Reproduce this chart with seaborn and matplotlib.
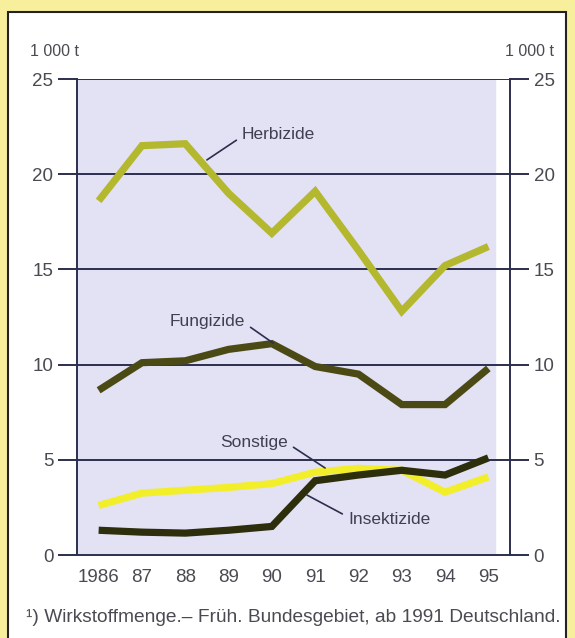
import matplotlib
matplotlib.use("Agg")
import matplotlib.pyplot as plt
import matplotlib.patches as mpatches
import numpy as np
import pandas as pd
import seaborn as sns

years = ["1986", "87", "88", "89", "90", "91", "92", "93", "94", "95"]
herbizide = [18.6, 21.5, 21.6, 19.0, 16.9, 19.1, 16.0, 12.8, 15.2, 16.2]
fungizide = [8.65, 10.1, 10.2, 10.8, 11.1, 9.9, 9.5, 7.9, 7.9, 9.8]
sonstige = [2.6, 3.25, 3.4, 3.55, 3.75, 4.35, 4.55, 4.45, 3.3, 4.1]
insektizide = [1.3, 1.2, 1.15, 1.3, 1.5, 3.9, 4.2, 4.45, 4.2, 5.1]

series = ["Herbizide", "Fungizide", "Sonstige", "Insektizide"]
colors = {"Herbizide": "#b3b82e", "Fungizide": "#4b4a14",
          "Sonstige": "#f2ee2a", "Insektizide": "#2c2e0c"}

pos = np.arange(len(years))
df = pd.concat([
    pd.DataFrame({"pos": pos, "value": vals, "series": name})
    for name, vals in zip(series, [herbizide, fungizide, sonstige, insektizide])
])

sns.set_style("white")
plt.rcParams["font.family"] = ["Liberation Sans", "DejaVu Sans"]
txt = "#4a4a52"
grid = "#2b2f4d"

fig = plt.figure(figsize=(5.75, 6.38), dpi=100)
fig.patch.set_facecolor("#f8ef9c")
panel = mpatches.Rectangle((8 / 575, -0.01), 558 / 575, 1 - 12 / 638 + 0.01,
                           transform=fig.transFigure, facecolor="white",
                           edgecolor="#222222", linewidth=1.5, zorder=-10)
fig.patches.append(panel)

ax = fig.add_axes([77 / 575, 1 - 555 / 638, 433 / 575, 476 / 638])
ax.set_zorder(1)
ax.set_facecolor("none")
ax.axvspan(-0.5, 9.15, color="#e3e1f4", zorder=0)

for name in series:
    sub = df[df["series"] == name]
    sns.lineplot(data=sub, x="pos", y="value", color=colors[name], linewidth=5.2,
                 ax=ax, legend=False, zorder=3, solid_capstyle="butt",
                 solid_joinstyle="miter")

ax.set_xlim(-0.5, 9.5)
ax.set_ylim(0, 25)
for v in [5, 10, 15, 20, 25]:
    ax.axhline(v, color=grid, linewidth=1.4, zorder=2)

for s in ["left", "right", "bottom"]:
    ax.spines[s].set_visible(True)
    ax.spines[s].set_color(grid)
    ax.spines[s].set_linewidth(1.4)
ax.spines["top"].set_visible(False)

ax.set_yticks([0, 5, 10, 15, 20, 25])
ax.tick_params(axis="y", left=True, right=True, labelleft=True, labelright=True,
               length=14, width=1.4, color=grid, direction="out",
               labelsize=13.5, labelcolor=txt, pad=3)
ax.set_xticks(pos)
ax.set_xticklabels(years)
ax.tick_params(axis="x", length=0, labelsize=13.5, labelcolor=txt, pad=10)
ax.set_xticks(np.arange(-0.5, 10, 1), minor=True)
ax.tick_params(axis="x", which="minor", length=11, width=1.4, color=grid, direction="out")
ax.set_xlabel("")
ax.set_ylabel("")

ax.text(-1.02, 1.058, "1 000 t", transform=ax.get_xaxis_transform(), ha="center",
        va="center", fontsize=11.5, color=txt)
ax.text(9.94, 1.058, "1 000 t", transform=ax.get_xaxis_transform(), ha="center",
        va="center", fontsize=11.5, color=txt)

lab = dict(fontsize=12.5, color="#3e4050", va="center")
arrow = dict(arrowstyle="-", color="#2b2f4d", linewidth=1.2, shrinkA=2, shrinkB=0)
ax.annotate("Herbizide", xy=(2.50, 20.75), xytext=(3.31, 22.06), ha="left",
            arrowprops=dict(arrow, relpos=(0, 0.4)), zorder=5, **lab)
ax.annotate("Fungizide", xy=(4.03, 11.13), xytext=(3.38, 12.24), ha="right",
            arrowprops=dict(arrow, relpos=(1, 0.4)), zorder=5, **lab)
ax.annotate("Sonstige", xy=(5.23, 4.57), xytext=(4.37, 5.93), ha="right",
            arrowprops=dict(arrow, relpos=(1, 0.4)), zorder=5, **lab)
ax.annotate("Insektizide", xy=(4.81, 3.15), xytext=(5.76, 1.84), ha="left",
            arrowprops=dict(arrow, relpos=(0, 0.7)), zorder=5, **lab)

fig.text(293 / 575, 1 - 617 / 638, "¹) Wirkstoffmenge.– Früh. Bundesgebiet, ab 1991 Deutschland.",
         ha="center", va="center", fontsize=13.8, color=txt)

fig.savefig("out.png", dpi=100, facecolor=fig.get_facecolor())
